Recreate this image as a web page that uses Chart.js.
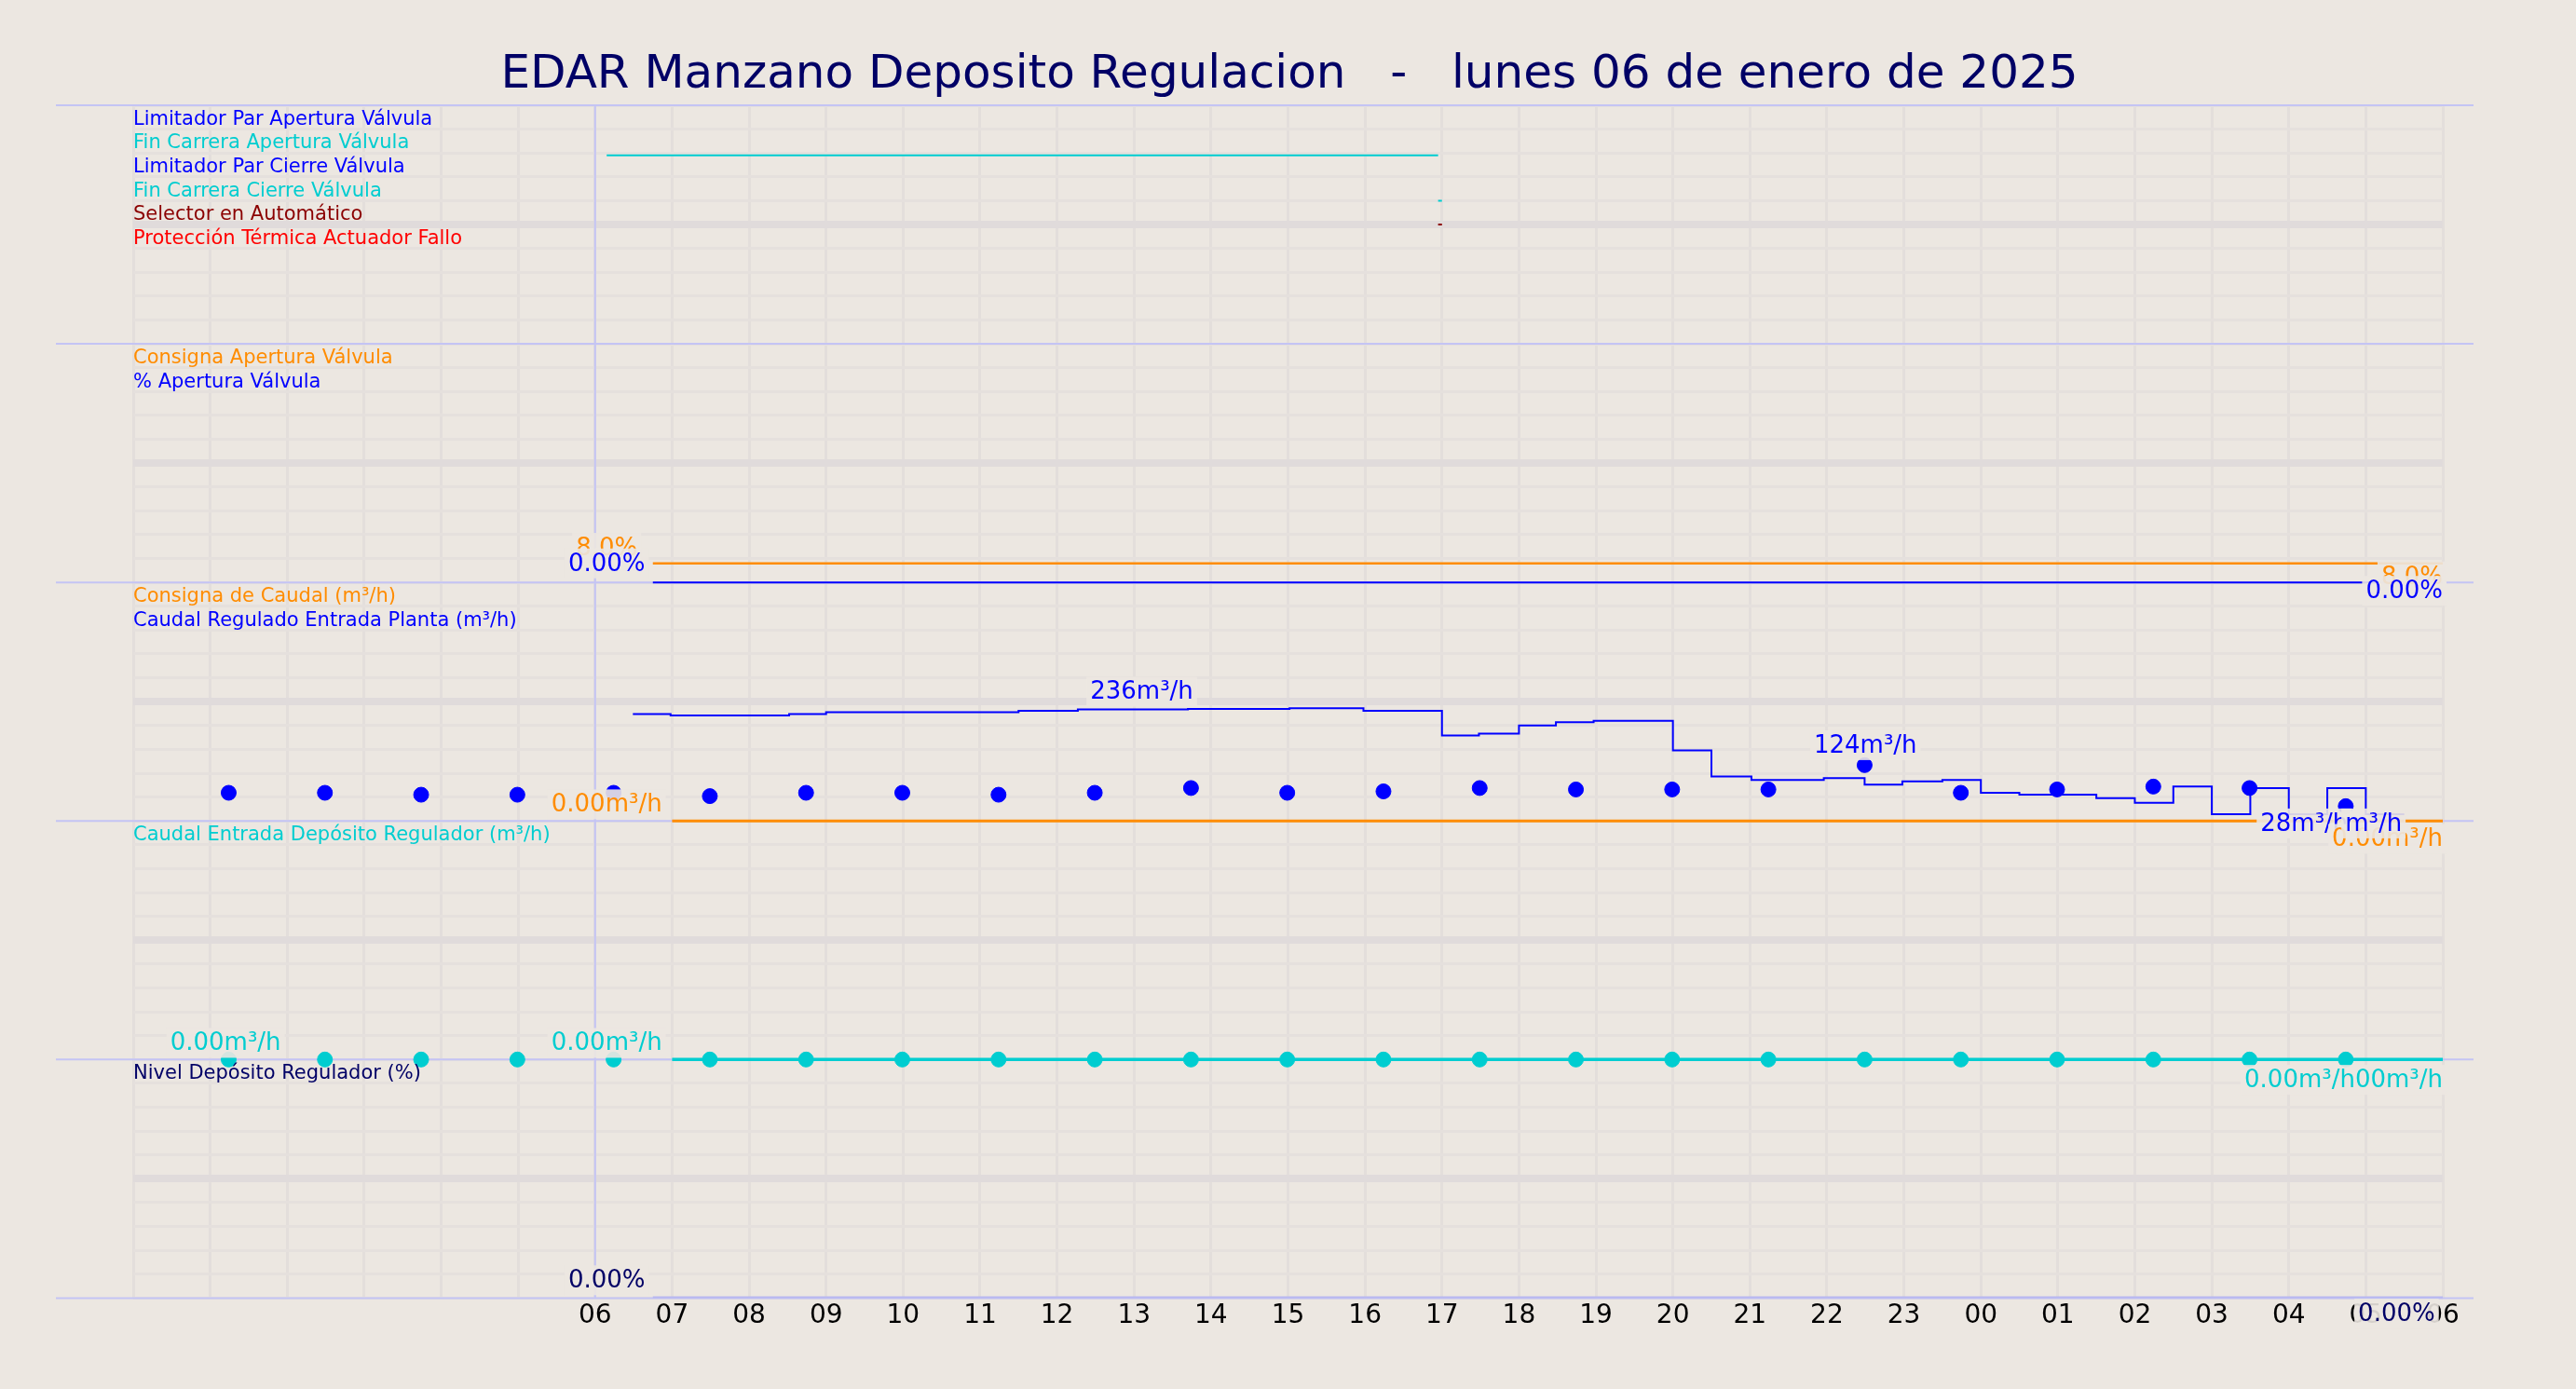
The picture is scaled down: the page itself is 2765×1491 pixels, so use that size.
<!DOCTYPE html>
<html><head><meta charset="utf-8">
<script src="https://cdn.jsdelivr.net/npm/chart.js@4"></script>
<style>html,body{margin:0;padding:0;background:#ece7e1}#w{width:2765px;height:1491px}</style>
</head><body><div id="w"><canvas id="c"></canvas></div>
<script>
// ---- data (hours from 06:00 of 06/01/2025) ----
const hourLabels = ['06','07','08','09','10','11','12','13','14','15','16','17','18','19','20','21','22','23','00','01','02','03','04','05','06'];
const caudalHours = [0.49,0.98,2.52,3.0,4.52,5.5,6.27,7.7,9.02,9.98,11.0,11.48,12.0,12.48,12.97,14.0,14.5,15.02,15.96,16.49,16.98,17.5,18.0,18.5,19.5,20.0,20.5,21.0,21.5,22.0,22.5,23.0,23.5];
const caudalValues = [224,221,224,228,228,231,234,235,236,231,179,183,200,207,210,148,93,86,90,76,83,86,59,55,48,38,72,14,69,14,69,14,14];
const dotHours = [-4.76,-3.51,-2.26,-1.01,0.24,1.49,2.74,3.99,5.24,6.49,7.74,8.99,10.24,11.49,12.74,13.99,15.24,16.49,17.74,18.99,20.24,21.49,22.74];
const dotCaudal = [59,59,55,55,59,52,59,59,55,59,69,59,62,69,66,66,66,117,59,66,72,69,31];
const dotEntrada = [0,0,0,0,0,0,0,0,0,0,0,0,0,0,0,0,0,0,0,0,0,0,0];
const consignaCaudal = [[1.0,0],[24,0]];
const entradaLine = [[1.0,0],[24,0]];
const consignaApertura = [[0.75,8.0],[24,8.0]];
const aperturaValvula = [[0.75,0],[24,0]];
const nivelDeposito = [[0.75,0],[24,0]];
const finCarreraApertura = [[0.15,1],[10.95,1]];
const finCarreraCierre = [[10.95,1],[11.0,1]];
const selectorAuto = [[10.95,1],[11.0,1]];
const title = 'EDAR Manzano Deposito Regulacion   -   lunes 06 de enero de 2025';

// band transforms: 5 bands of 10 units, top band = 40..50
const bCaudal = v => 20 + v/50;
const bEntrada = v => 10 + v/50;
const bPct = v => 30 + v/10;
const bNivel = v => v/10;
const pts = (arr, f) => arr.map(p => ({x:p[0], y:f(p[1])}));

const BLUE='#0000ff', CYAN='#00cdd0', ORANGE='#ff8c00', NAVY='#000066', LAV='#c4c4f4';

const legends = [
 ['Limitador Par Apertura Válvula',BLUE,49.4],['Fin Carrera Apertura Válvula',CYAN,48.4],
 ['Limitador Par Cierre Válvula',BLUE,47.4],['Fin Carrera Cierre Válvula',CYAN,46.4],
 ['Selector en Automático','#8b0000',45.4],['Protección Térmica Actuador Fallo','#ff0000',44.4],
 ['Consigna Apertura Válvula',ORANGE,39.4],['% Apertura Válvula',BLUE,38.4],
 ['Consigna de Caudal (m³/h)',ORANGE,29.4],['Caudal Regulado Entrada Planta (m³/h)',BLUE,28.4],
 ['Caudal Entrada Depósito Regulador (m³/h)',CYAN,19.4],['Nivel Depósito Regulador (%)',NAVY,9.4]
];
const labels = [
 ['8.0%',ORANGE,0.15,bPct(8)+0.1,'center'],['0.00%',BLUE,0.15,bPct(0)+0.25,'center'],
 ['8.0%',ORANGE,24,bPct(8)-1.1,'right'],['0.00%',BLUE,24,bPct(0)-0.9,'right'],
 ['236m³/h',BLUE,7.1,bCaudal(236)+0.15,'center'],['0.00m³/h',ORANGE,0.15,bCaudal(0)+0.15,'center'],
 ['124m³/h',BLUE,16.5,bCaudal(124)+0.15,'center'],['28m³/h',BLUE,22.2,bCaudal(0)-0.65,'center'],
 ['0.00m³/h',ORANGE,24,bCaudal(0)-1.3,'right'],['m³/h',BLUE,23.1,bCaudal(0)-0.65,'center'],
 ['0.00m³/h',CYAN,-4.8,bEntrada(0)+0.15,'center'],['0.00m³/h',CYAN,0.15,bEntrada(0)+0.15,'center'],
 ['0.00m³/h00m³/h',CYAN,24,bEntrada(0)-1.4,'right'],
 ['0.00%',NAVY,0.15,bNivel(0)+0.2,'center'],['0.00%',NAVY,23.4,bNivel(0)-1.2,'center']
];

const overlay = {
 id:'overlay',
 beforeDatasetsDraw(ch){
  const {ctx, chartArea:a, scales:{x,y}} = ch;
  ctx.save();
  ctx.strokeStyle=LAV; ctx.lineWidth=2;
  [0,10,20,30,40,50].forEach(v=>{const py=y.getPixelForValue(v);ctx.beginPath();ctx.moveTo(60,py);ctx.lineTo(2655,py);ctx.stroke();});
  const px=x.getPixelForValue(0);ctx.beginPath();ctx.moveTo(px,a.top);ctx.lineTo(px,a.bottom);ctx.stroke();
  ctx.restore();
 },
 afterDatasetsDraw(ch){
  const {ctx, scales:{x,y}} = ch;
  ctx.save();
  ctx.font='21px "DejaVu Sans"'; ctx.textBaseline='middle'; ctx.textAlign='left';
  legends.forEach(([t,c,v])=>{ctx.fillStyle=c;ctx.fillText(t,x.left,y.getPixelForValue(v));});
  ctx.font='26px "DejaVu Sans"'; ctx.textBaseline='bottom';
  labels.forEach(([t,c,hx,v,al])=>{
   ctx.textAlign=al; const w=ctx.measureText(t).width;
   const px=x.getPixelForValue(hx), py=y.getPixelForValue(v);
   const l = al==='center'? px-w/2 : (al==='right'? px-w : px);
   ctx.fillStyle='rgba(236,231,225,0.9)'; ctx.fillRect(l-4,py-30,w+8,32);
   ctx.fillStyle=c; ctx.fillText(t,px,py);
  });
  ctx.font='50px "DejaVu Sans"'; ctx.textAlign='center'; ctx.textBaseline='middle'; ctx.fillStyle=NAVY;
  ctx.fillText(title,1384,81);
  ctx.restore();
 }
};

new Chart(document.getElementById('c'),{
 type:'scatter',
 data:{datasets:[
  {data:pts(finCarreraApertura,v=>47.9+0*v),showLine:true,borderColor:CYAN,borderWidth:2,pointRadius:0},
  {data:pts(finCarreraCierre,v=>46+0*v),showLine:true,borderColor:CYAN,borderWidth:2,pointRadius:0},
  {data:pts(selectorAuto,v=>45+0*v),showLine:true,borderColor:'#8b0000',borderWidth:2,pointRadius:0},
  {data:pts(consignaApertura,bPct),showLine:true,borderColor:ORANGE,borderWidth:2.5,pointRadius:0},
  {data:pts(aperturaValvula,bPct),showLine:true,borderColor:BLUE,borderWidth:2,pointRadius:0},
  {data:pts(consignaCaudal,bCaudal),showLine:true,borderColor:ORANGE,borderWidth:3,pointRadius:0},
  {data:caudalHours.map((h,i)=>({x:h,y:bCaudal(caudalValues[i])})),showLine:true,stepped:true,borderColor:BLUE,borderWidth:2,pointRadius:0},
  {data:dotHours.map((h,i)=>({x:h,y:bCaudal(dotCaudal[i])})),showLine:false,backgroundColor:BLUE,borderColor:BLUE,pointRadius:8},
  {data:pts(entradaLine,bEntrada),showLine:true,borderColor:CYAN,borderWidth:3.5,pointRadius:0},
  {data:dotHours.map((h,i)=>({x:h,y:bEntrada(dotEntrada[i])})),showLine:false,backgroundColor:CYAN,borderColor:CYAN,pointRadius:8},
  {data:pts(nivelDeposito,bNivel),showLine:true,borderColor:'#b8b8f0',borderWidth:4,pointRadius:0}
 ]},
 options:{
  responsive:true,maintainAspectRatio:false,animation:false,devicePixelRatio:1,
  layout:{padding:{left:143,right:143,top:113,bottom:58}},
  plugins:{legend:{display:false},tooltip:{enabled:false}},
  scales:{
   x:{type:'linear',min:-6,max:24,
      ticks:{stepSize:1,autoSkip:false,maxRotation:0,color:'#000',font:{size:28,family:'DejaVu Sans'},
             callback:v=>v>=0&&Number.isInteger(v)?hourLabels[v]:''},
      grid:{color:'#e3dedb',lineWidth:3,drawTicks:false},border:{display:false}},
   y:{min:0,max:50,display:true,
      ticks:{display:false,stepSize:1},
      grid:{color:c=>(c.tick.value%10===5)?'#e0dbdb':'#e5e0dd',lineWidth:c=>(c.tick.value%10===5)?8:3,drawTicks:false},
      border:{display:false}}
  }
 },
 plugins:[overlay]
});
</script></body></html>
